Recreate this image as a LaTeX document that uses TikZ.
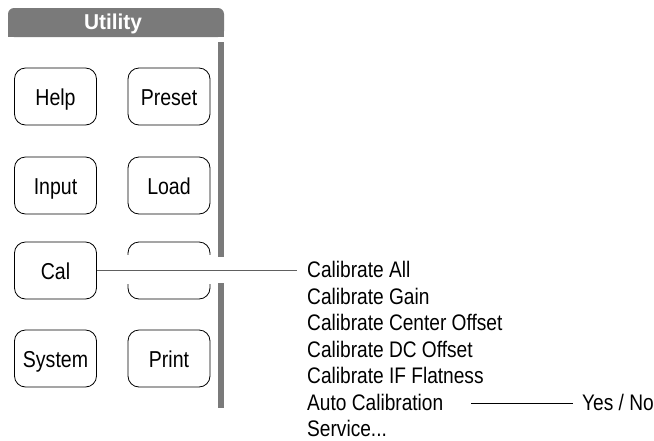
\documentclass[tikz,border=0pt]{standalone}
\usepackage{fontspec}
\setmainfont{Liberation Sans}[FakeStretch=0.85]
\newfontfamily\headfont{Liberation Sans}[FakeStretch=0.97]
\definecolor{panelgray}{RGB}{122,122,122}
\definecolor{leadgray}{RGB}{96,96,96}
\begin{document}
\begin{tikzpicture}[x=1pt,y=-1pt,
        key/.style={draw,line width=0.8pt,rounded corners=11pt,minimum width=82pt,minimum height=57pt,
            inner sep=0pt,text height=18pt,text depth=0pt,font=\fontsize{23}{23}\selectfont},
        entry/.style={anchor=west,inner sep=0pt,text height=14pt,text depth=0pt,font=\fontsize{22.5}{22.5}\selectfont}]
        \useasboundingbox (0,0) rectangle (654,440);

        \fill [panelgray,rounded corners=6pt] (8,8) rectangle (224,37);
        \fill [panelgray] (8,22) rectangle (224,37);
        \node [text=white,inner sep=0pt,text height=15pt,text depth=0pt,font=\headfont\bfseries\fontsize{21.5}{21.5}\selectfont] (title) at (113,22) {Utility};
        \fill [panelgray] (218,42) rectangle (224,257);
        \fill [panelgray] (218,283) rectangle (224,408);

        \node [key] (help) at (55.5,96.5) {Help};
        \node [key] (preset) at (169,96.5) {Preset};
        \node [key] (input) at (55.5,185.5) {Input};
        \node [key] (load) at (169,185.5) {Load};
        \node [key] (cal) at (55.5,270.5) {Cal};
        \node [key] (blank) at (169,270.5) {};
        \node [key] (system) at (55.5,358.5) {System};
        \node [key] (print) at (169,358.5) {Print};
        \fill [white] (122,255) rectangle (216,284);

        \node [entry] (all) at (307,270.5) {Calibrate All};
        \node [entry] (gain) at (307,297) {Calibrate Gain};
        \node [entry] (center) at (307,323.5) {Calibrate Center Offset};
        \node [entry] (dc) at (307,350) {Calibrate DC Offset};
        \node [entry] (flat) at (307,376.5) {Calibrate IF Flatness};
        \node [entry] (auto) at (307,403) {Auto Calibration};
        \node [entry] (service) at (307,429.5) {Service...};
        \node [entry] (yesno) at (582,403) {Yes / No};

        \draw [leadgray,line width=1.2pt] (cal.east) -- ([xshift=-10pt]all.west);
        \draw [line width=0.9pt] ([xshift=28pt]auto.east) -- ([xshift=-9pt]yesno.west);
\end{tikzpicture}
\end{document}
